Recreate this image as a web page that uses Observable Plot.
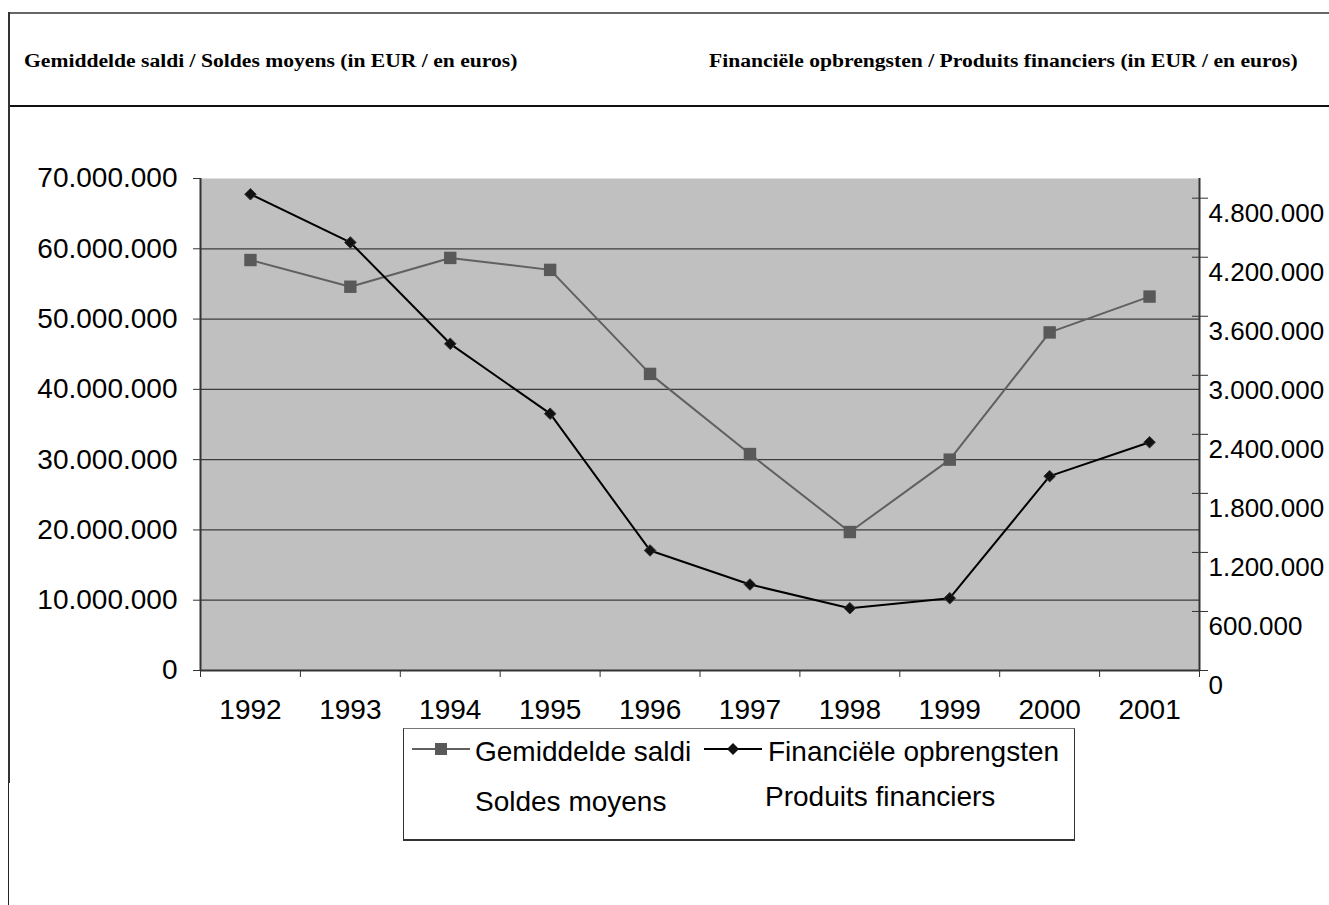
<!DOCTYPE html>
<html>
<head>
<meta charset="utf-8">
<script src="https://cdn.jsdelivr.net/npm/d3@7"></script>
<script src="https://cdn.jsdelivr.net/npm/@observablehq/plot@0.6"></script>
<style>
  html, body { margin: 0; padding: 0; background: #fff; }
  #page { position: relative; width: 1329px; height: 905px; overflow: hidden; font-family: "Liberation Sans", Arial, sans-serif; }
  .hline { position: absolute; left: 8px; right: 0; }
  .htext { position: absolute; font-family: "Liberation Serif", "Times New Roman", serif; font-weight: bold; font-size: 18px; transform: scaleX(1.2); transform-origin: left center; white-space: nowrap; color: #000; }
  #chart { position: absolute; left: 0; top: 120px; }
  #legend { position: absolute; left: 403px; top: 728px; width: 672px; height: 113px; border: 1px solid #333; border-top-color: #777; border-bottom-width: 2px; box-sizing: border-box; font-size: 28px; color: #000; }
  .lg { position: absolute; white-space: nowrap; line-height: 1; }
</style>
</head>
<body>
<div id="page">
  <div class="hline" style="top:12px;height:2px;background:#666;"></div>
  <div class="hline" style="top:105px;height:2px;background:#111;"></div>
  <div style="position:absolute;left:8px;top:12px;width:2px;height:771px;background:#333;"></div>
  <div style="position:absolute;left:8px;top:783px;width:1px;height:122px;background:#222;"></div>
  <div class="htext" id="h1" style="left:24px;top:51px;"></div>
  <div class="htext" id="h2" style="left:709px;top:51px;"></div>
  <div id="chart"></div>
  <div id="legend"></div>
</div>
<script>
// ---- Data ----
const years = [1992, 1993, 1994, 1995, 1996, 1997, 1998, 1999, 2000, 2001];
const saldi = [58400000, 54600000, 58700000, 57000000, 42200000, 30800000, 19700000, 30000000, 48100000, 53200000];
const opbrengsten = [4840000, 4350000, 3320000, 2610000, 1220000, 874000, 633000, 735000, 1975000, 2320000];
const leftTicks = [0, 10000000, 20000000, 30000000, 40000000, 50000000, 60000000, 70000000];
const rightTicks = [0, 600000, 1200000, 1800000, 2400000, 3000000, 3600000, 4200000, 4800000];
const leftMax = 70000000;
const rightMax = 5000000;
const headerLeft = "Gemiddelde saldi / Soldes moyens (in EUR / en euros)";
const headerRight = "Financiële opbrengsten / Produits financiers (in EUR / en euros)";
const seriesNames = ["Gemiddelde saldi", "Financiële opbrengsten"];
const seriesNamesFr = ["Soldes moyens", "Produits financiers"];

document.getElementById("h1").textContent = headerLeft;
document.getElementById("h2").textContent = headerRight;

const locale = d3.formatLocale({decimal: ",", thousands: ".", grouping: [3], currency: ["", " €"]});
const fmt = locale.format(",d");
const k = leftMax / rightMax; // right-axis values mapped onto left scale

const rowsL = years.map((y, i) => ({year: y, v: saldi[i]}));
const rowsR = years.map((y, i) => ({year: y, v: opbrengsten[i] * k}));
const xDomain = [years[0] - 0.5, years[years.length - 1] + 0.5];
const xBounds = d3.range(xDomain[0], xDomain[1] + 0.01, 1);
const rightScaled = rightTicks.map(v => v * k);

const chart = Plot.plot({
  width: 1329,
  height: 640,
  marginLeft: 200,
  marginRight: 130,
  marginTop: 58,
  marginBottom: 90,
  x: {type: "linear", domain: xDomain},
  y: {domain: [0, leftMax]},
  style: {fontFamily: "'Liberation Sans', Arial, sans-serif", fontSize: "28px", color: "#000", background: "transparent"},
  marks: [
    Plot.frame({fill: "#c0c0c0", stroke: null}),
    Plot.ruleY(leftTicks.slice(1, -1), {stroke: "#3c3c3c", strokeWidth: 1.3}),
    Plot.ruleX(xDomain, {stroke: "#333", strokeWidth: 2}),
    Plot.ruleY([0], {stroke: "#333", strokeWidth: 2}),
    Plot.axisY({anchor: "left", ticks: leftTicks, tickFormat: fmt, tickSize: 7, tickPadding: 16, stroke: "#333", label: null}),
    Plot.axisY({anchor: "right", ticks: rightScaled, tickFormat: () => "", tickSize: 16, dx: -8, stroke: "#333", label: null}),
    Plot.axisY({anchor: "right", ticks: rightScaled, tickFormat: d => fmt(Math.round(d / k)), tickSize: 0, tickPadding: 9, dy: 15, fontSize: 26, label: null}),
    Plot.axisX({anchor: "bottom", ticks: xBounds, tickFormat: () => "", tickSize: 7, stroke: "#333", label: null}),
    Plot.axisX({anchor: "bottom", ticks: years, tickFormat: d => String(d), tickSize: 0, tickPadding: 29, label: null}),
    Plot.line(rowsL, {x: "year", y: "v", stroke: "#606060", strokeWidth: 2}),
    Plot.dot(rowsL, {x: "year", y: "v", symbol: "square", r: 7, fill: "#595959", stroke: "none"}),
    Plot.line(rowsR, {x: "year", y: "v", stroke: "#000", strokeWidth: 2}),
    Plot.dot(rowsR, {x: "year", y: "v", symbol: "diamond2", r: 5.2, fill: "#111", stroke: "#333", strokeWidth: 1})
  ]
});
document.getElementById("chart").appendChild(chart);

// ---- Legend ----
const lg = document.getElementById("legend");
lg.innerHTML = `
  <svg class="lg" style="left:8px;top:12px" width="58" height="16"><line x1="0" y1="8" x2="58" y2="8" stroke="#606060" stroke-width="2"/><rect x="23" y="2" width="12" height="12" fill="#595959"/></svg>
  <div class="lg" style="left:71px;top:9px">${seriesNames[0]}</div>
  <svg class="lg" style="left:300px;top:12px" width="58" height="16"><line x1="0" y1="8" x2="58" y2="8" stroke="#000" stroke-width="2"/><path d="M29,2L35,8L29,14L23,8Z" fill="#111"/></svg>
  <div class="lg" style="left:364px;top:9px">${seriesNames[1]}</div>
  <div class="lg" style="left:71px;top:59px">${seriesNamesFr[0]}</div>
  <div class="lg" style="left:361px;top:54px">${seriesNamesFr[1]}</div>
`;
</script>
</body>
</html>
